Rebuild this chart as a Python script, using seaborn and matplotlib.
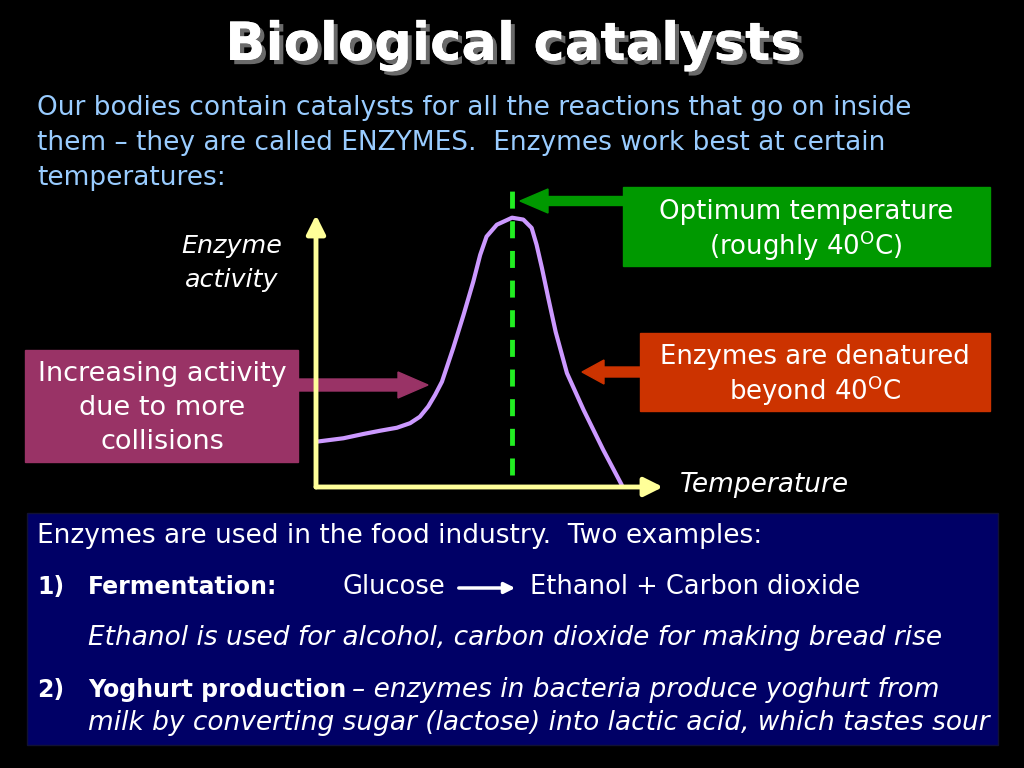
"""
Diapositive : catalyseurs biologiques et activite enzymatique.
"""

import matplotlib.pyplot as plt
import matplotlib.patheffects as pe
from matplotlib.patches import Rectangle, FancyArrow
import seaborn as sns

# Courbe d'activite enzymatique (temperature en degC, activite en %)
temperature = [0, 5.6, 9.7, 13.1, 16.5, 19.2, 21.2, 22.9, 24.3, 25.7, 28.0,
               30.1, 32.1, 33.5, 34.8, 36.9, 40.0, 42.3, 44.0, 45.0, 46.1,
               47.4, 48.9, 51.2, 54.6, 58.6, 62.4]
activite = [16.8, 18.1, 19.7, 20.9, 22.0, 23.7, 26.1, 29.9, 34.2, 39.1, 51.6,
            63.9, 76.3, 86.2, 93.0, 97.4, 100.0, 99.3, 96.2, 90.0, 81.3,
            70.1, 57.6, 42.3, 28.6, 13.8, 0.7]
t_optimum = 40
x_max, y_max = 70.8, 101

TITRE = "Biological catalysts"
INTRO = ["Our bodies contain catalysts for all the reactions that go on inside",
         "them \u2013 they are called ENZYMES.  Enzymes work best at certain",
         "temperatures:"]

BLEU_CLAIR = "#99CCFF"
JAUNE = "#FFFF99"
LAVANDE = "#CC99FF"
VERT = "#009900"
VERT_VIF = "#22EE22"
ROUGE = "#CC3300"
POURPRE = "#993366"
MARINE = "#000066"

sns.set_style("dark")
plt.rcParams["font.family"] = ["DejaVu Sans"]

fig = plt.figure(figsize=(10.24, 7.68), dpi=100, facecolor="black")

# Fond en coordonnees pixels
bg = fig.add_axes([0, 0, 1, 1], zorder=0)
bg.set_xlim(0, 1024)
bg.set_ylim(768, 0)
bg.axis("off")
bg.set_facecolor("black")

# Titre avec ombre
bg.text(513, 45, TITRE, color="white", fontsize=38, fontweight="bold",
        ha="center", va="center",
        path_effects=[pe.withSimplePatchShadow(offset=(3, -3), shadow_rgbFace="#777777", alpha=0.9),
                      pe.Normal()])

for i, ligne in enumerate(INTRO):
    bg.text(37, 108 + 35 * i, ligne, color=BLEU_CLAIR, fontsize=19, ha="left", va="center")

# Etiquettes des axes
bg.text(232, 246, "Enzyme", color="white", fontsize=18.3, style="italic",
        ha="center", va="center")
bg.text(232, 280, "activity", color="white", fontsize=18.3, style="italic",
        ha="center", va="center")
bg.text(680, 485, "Temperature", color="white", fontsize=19, style="italic",
        ha="left", va="center")

# Encadres
bg.add_patch(Rectangle((623, 187), 367, 79, color=VERT))
bg.text(806, 212, "Optimum temperature", color="white", fontsize=18.7,
        ha="center", va="center")
bg.text(806, 246, "(roughly 40$^{\\mathrm{O}}$C)", color="white", fontsize=18.7,
        ha="center", va="center")
bg.add_patch(FancyArrow(623, 201, -103, 0, width=9, head_width=24, head_length=28,
                        length_includes_head=True, color=VERT))

bg.add_patch(Rectangle((640, 333), 350, 78, color=ROUGE))
bg.text(815, 357, "Enzymes are denatured", color="white", fontsize=18.7,
        ha="center", va="center")
bg.text(815, 391, "beyond 40$^{\\mathrm{O}}$C", color="white", fontsize=18.7,
        ha="center", va="center")
bg.add_patch(FancyArrow(640, 372, -58, 0, width=10, head_width=24, head_length=22,
                        length_includes_head=True, color=ROUGE))

bg.add_patch(Rectangle((25, 350), 273, 112, color=POURPRE))
for i, ligne in enumerate(["Increasing activity", "due to more", "collisions"]):
    bg.text(162, 374 + 34 * i, ligne, color="white", fontsize=19.5,
            ha="center", va="center")
bg.add_patch(FancyArrow(290, 385, 138, 0, width=12, head_width=26, head_length=30,
                        length_includes_head=True, color=POURPRE))

# Encadre du bas
bg.add_patch(Rectangle((27, 513), 971, 232, facecolor=MARINE, edgecolor="#111133", lw=1))
bg.text(37, 536, "Enzymes are used in the food industry.  Two examples:",
        color="white", fontsize=19, va="center")
bg.text(37, 587, "1)", color="white", fontsize=17, fontweight="bold", va="center")
bg.text(88, 587, "Fermentation:", color="white", fontsize=17, fontweight="bold", va="center")
bg.text(343, 587, "Glucose", color="white", fontsize=18.5, va="center")
bg.annotate("", xy=(518, 588), xytext=(456, 588),
            arrowprops=dict(arrowstyle="-|>", color="white", lw=2.5, mutation_scale=16))
bg.text(530, 587, "Ethanol + Carbon dioxide", color="white", fontsize=18.5, va="center")
bg.text(88, 638, "Ethanol is used for alcohol, carbon dioxide for making bread rise",
        color="white", fontsize=19, style="italic", va="center")
bg.text(37, 690, "2)", color="white", fontsize=17, fontweight="bold", va="center")
bg.text(88, 690, "Yoghurt production", color="white", fontsize=17, fontweight="bold",
        va="center")
bg.text(352, 690, "\u2013 enzymes in bacteria produce yoghurt from", color="white",
        fontsize=19, style="italic", va="center")
bg.text(88, 723, "milk by converting sugar (lactose) into lactic acid, which tastes sour",
        color="white", fontsize=19, style="italic", va="center")

# Graphique
gauche, droite, haut, bas = 316, 663, 215, 487
ax = fig.add_axes([gauche / 1024, 1 - bas / 768, (droite - gauche) / 1024, (bas - haut) / 768],
                  zorder=1)
ax.patch.set_alpha(0)
ax.set_xlim(0, x_max)
ax.set_ylim(0, y_max)
for s in ax.spines.values():
    s.set_visible(False)
ax.set_xticks([])
ax.set_yticks([])
ax.grid(False)

sns.lineplot(x=temperature, y=activite, ax=ax, color=LAVANDE, lw=3, sort=False,
             solid_capstyle="round", solid_joinstyle="round")
ax.plot([t_optimum, t_optimum], [4.5, 111.5], color=VERT_VIF, lw=3.5,
        dashes=(3.5, 2.6), clip_on=False)

ax.annotate("", xy=(1.0, 0), xytext=(0, 0), xycoords="axes fraction",
            arrowprops=dict(arrowstyle="-|>", color=JAUNE, lw=3.5, mutation_scale=28,
                            shrinkA=0, shrinkB=0))
ax.annotate("", xy=(0, 1.0), xytext=(0, 0), xycoords="axes fraction",
            arrowprops=dict(arrowstyle="-|>", color=JAUNE, lw=3.5, mutation_scale=28,
                            shrinkA=0, shrinkB=0))

fig.savefig("out.png", dpi=100, facecolor="black")
